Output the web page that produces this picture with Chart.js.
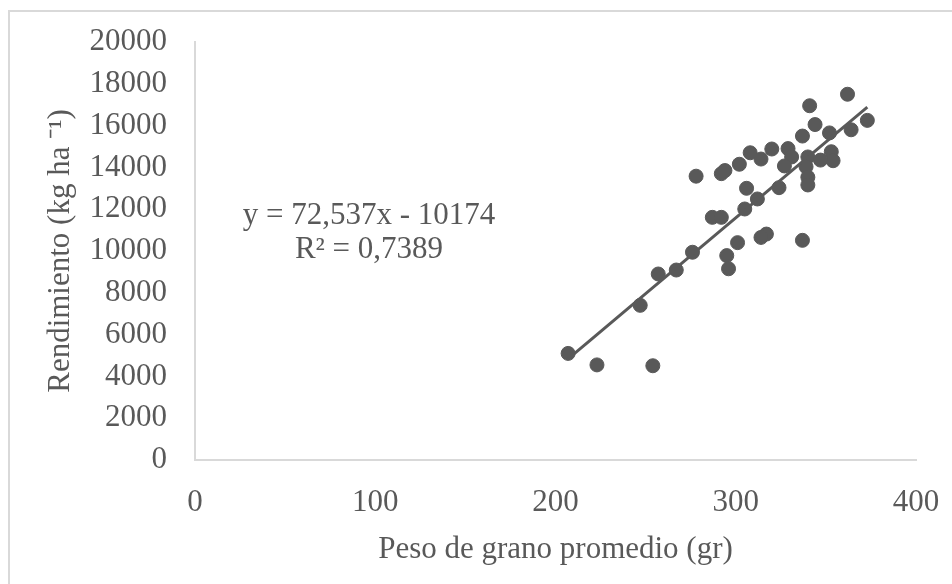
<!DOCTYPE html>
<html>
<head>
<meta charset="utf-8">
<script src="https://cdn.jsdelivr.net/npm/chart.js@4"></script>
<style>
  html, body { margin: 0; padding: 0; background: #fff; }
  #wrap { width: 952px; height: 584px; }
</style>
</head>
<body>
<div id="wrap"><canvas id="grainChart" width="952" height="584"></canvas></div>
<script>
'use strict';
//****************************
// DATA
//****************************
var pesoGrano = [362, 341, 373, 364, 344, 352, 337, 320, 329, 308, 314, 331, 302, 292, 294, 278,
  340, 353, 354, 347, 339, 327, 340, 340, 306, 324, 312, 305, 287, 292, 317, 314, 337, 301,
  276, 295, 296, 257, 267, 247, 207, 223, 254];
var rendimiento = [17500, 16950, 16250, 15800, 16050, 15650, 15500, 14880, 14900, 14700, 14400, 14500, 14150, 13700, 13850, 13580,
  14500, 14750, 14320, 14350, 14030, 14070, 13530, 13160, 13000, 13030, 12490, 12010, 11610, 11610, 10810, 10650, 10510, 10400,
  9940, 9780, 9150, 8900, 9090, 7400, 5100, 4550, 4510];
var xTicks = [0, 100, 200, 300, 400];
var yTicks = [0, 2000, 4000, 6000, 8000, 10000, 12000, 14000, 16000, 18000, 20000];
var trendCoef = [72.537, -10174];
var trendLabels = ['y = 72,537x - 10174', 'R² = 0,7389'];

var grey = '#595959';
var axisGrey = '#d9d9d9';
var font = 'Liberation Serif';
var fontSize = 31;

var points = [];
for (var i = 0; i < pesoGrano.length; i++) {
  points.push({ x: pesoGrano[i], y: rendimiento[i] });
}

// trend line over the range of the data
var xMin = Math.min.apply(null, pesoGrano);
var xMax = Math.max.apply(null, pesoGrano);
var trend = [
  { x: xMin, y: trendCoef[0] * xMin + trendCoef[1] },
  { x: xMax, y: trendCoef[0] * xMax + trendCoef[1] }
];

var frame = {
  id: 'frame',
  beforeDraw: function(chart) {
    var ctx = chart.ctx;
    ctx.save();
    ctx.fillStyle = '#fff';
    ctx.fillRect(0, 0, chart.width, chart.height);
    ctx.strokeStyle = axisGrey;
    ctx.lineWidth = 2;
    ctx.beginPath();
    ctx.moveTo(9, chart.height);
    ctx.lineTo(9, 11);
    ctx.lineTo(chart.width, 11);
    ctx.stroke();
    ctx.restore();
  },
  afterDraw: function(chart) {
    var ctx = chart.ctx;
    ctx.save();
    ctx.fillStyle = grey;
    ctx.font = fontSize + 'px "' + font + '"';
    ctx.textAlign = 'center';
    ctx.textBaseline = 'middle';
    ctx.fillText(trendLabels[0], 369, 216);
    ctx.fillText(trendLabels[1], 369, 250);
    ctx.restore();
  }
};

function plain(value) {
  return String(value);
}

var ctx = document.getElementById('grainChart').getContext('2d');
var chart = new Chart(ctx, {
  type: 'scatter',
  data: {
    datasets: [{
      label: 'Rendimiento',
      data: points,
      backgroundColor: grey,
      borderColor: grey,
      pointRadius: 7,
      pointHoverRadius: 7,
      order: 2
    }, {
      type: 'line',
      label: 'Lineal',
      data: trend,
      borderColor: grey,
      borderWidth: 3,
      pointRadius: 0,
      fill: false,
      order: 1
    }]
  },
  plugins: [frame],
  options: {
    responsive: false,
    animation: false,
    layout: { padding: { top: 42, right: 36, left: 0, bottom: 14 } },
    plugins: {
      legend: { display: false },
      tooltip: { enabled: false }
    },
    scales: {
      x: {
        type: 'linear',
        min: 0,
        max: 400,
        afterBuildTicks: function(scale) {
          scale.ticks = xTicks.map(function(v) { return { value: v }; });
        },
        afterFit: function(scale) {
          scale.height = 110;
          scale.paddingLeft = 0;
          scale.paddingRight = 0;
        },
        grid: { display: false, drawTicks: false },
        border: { color: axisGrey, width: 2 },
        ticks: { color: grey, font: { family: font, size: fontSize }, padding: 24, maxRotation: 0, callback: plain },
        title: {
          display: true,
          text: 'Peso de grano promedio (gr)',
          color: grey,
          font: { family: font, size: fontSize },
          padding: { top: 4, bottom: 2 }
        }
      },
      y: {
        type: 'linear',
        min: 0,
        max: 20000,
        afterBuildTicks: function(scale) {
          scale.ticks = yTicks.map(function(v) { return { value: v }; });
        },
        afterFit: function(scale) {
          scale.width = 195;
          scale.paddingTop = 2;
          scale.paddingBottom = 0;
        },
        grid: { display: false, drawTicks: false },
        border: { color: axisGrey, width: 2 },
        ticks: { color: grey, font: { family: font, size: fontSize }, padding: 28, callback: plain },
        title: {
          display: true,
          text: 'Rendimiento (kg ha ⁻¹)',
          color: grey,
          font: { family: font, size: fontSize },
          padding: { top: 42, bottom: 4 }
        }
      }
    }
  }
});
</script>
</body>
</html>
